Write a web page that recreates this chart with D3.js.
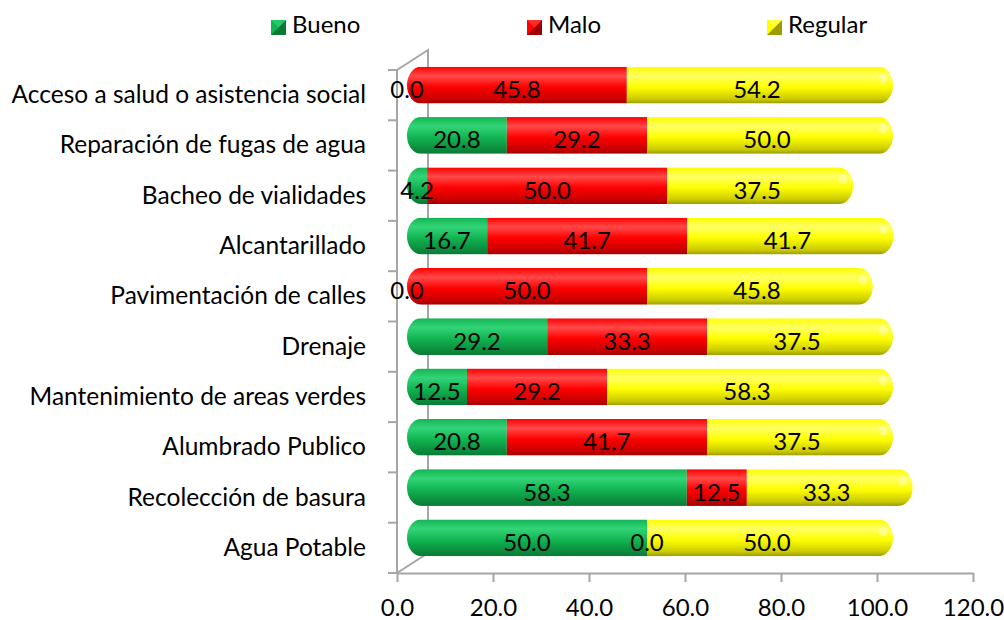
<!DOCTYPE html>
<html>
<head>
<meta charset="utf-8">
<script src="https://cdn.jsdelivr.net/npm/d3@7"></script>
<style>
  body { margin: 0; background: #fff; }
  svg { display: block; font-family: Lato, "Noto Sans", sans-serif; }
</style>
</head>
<body>
<svg width="1004" height="620"></svg>
<script>
// datos
const categorias = [
  "Acceso a salud o asistencia social", "Reparación de fugas de agua", "Bacheo de vialidades",
  "Alcantarillado", "Pavimentación de calles", "Drenaje", "Mantenimiento de areas verdes",
  "Alumbrado Publico", "Recolección de basura", "Agua Potable"
];
const bueno   = [0.0, 20.8, 4.2, 16.7, 0.0, 29.2, 12.5, 20.8, 58.3, 50.0];
const malo    = [45.8, 29.2, 50.0, 41.7, 50.0, 33.3, 29.2, 41.7, 12.5, 0.0];
const regular = [54.2, 50.0, 37.5, 41.7, 45.8, 37.5, 58.3, 37.5, 33.3, 50.0];
const series = ["Bueno", "Malo", "Regular"];
const xTicks = [0, 20, 40, 60, 80, 100, 120];

const colores = {
  Bueno:   { top: "#33d477", mid: "#12b552", bot: "#0b8a3c", dark: "#0a7a35" },
  Malo:    { top: "#ff4a4a", mid: "#ff0000", bot: "#c80000", dark: "#a00000" },
  Regular: { top: "#ffff66", mid: "#ffff00", bot: "#caca00", dark: "#9c9c00" }
};

const svg = d3.select("svg");
const pLeft = 397, pRight = 973, pTop = 70, pBottom = 573;
const dx = 10, dy = -10;        // mitad de la profundidad 3D
const backDx = 31, backDy = -20; // pared del fondo

const x = d3.scaleLinear().domain([0, 120]).range([pLeft, pRight]);
const y = d3.scaleBand().domain(categorias).range([pTop, pBottom]).paddingInner(0.27).paddingOuter(0.135);
const yb = d3.scaleBand().domain(categorias).range([pTop, pBottom]);

const filas = categorias.map((c, i) => ({ cat: c, Bueno: bueno[i], Malo: malo[i], Regular: regular[i] }));
const stacked = d3.stack().keys(series)(filas);

// gradientes
const defs = svg.append("defs");
series.forEach(s => {
  const g = defs.append("linearGradient").attr("id", "g-" + s)
    .attr("x1", 0).attr("y1", 0).attr("x2", 0).attr("y2", 1);
  g.append("stop").attr("offset", "0%").attr("stop-color", colores[s].mid);
  g.append("stop").attr("offset", "25%").attr("stop-color", colores[s].top);
  g.append("stop").attr("offset", "55%").attr("stop-color", colores[s].mid);
  g.append("stop").attr("offset", "88%").attr("stop-color", colores[s].bot);
  g.append("stop").attr("offset", "100%").attr("stop-color", colores[s].dark);
});

// pared y ejes
const grey = "#a6a6a6";
const wall = svg.append("g").attr("stroke", grey).attr("stroke-width", 2).attr("fill", "none");
wall.append("path").attr("d",
  `M${pLeft},${pTop}L${pLeft + backDx},${pTop + backDy}L${pLeft + backDx},${pBottom + backDy}L${pLeft},${pBottom}`);
wall.append("line").attr("x1", pLeft).attr("x2", pLeft).attr("y1", pTop).attr("y2", pBottom);

// ticks del eje de categorías
svg.append("g").selectAll("line")
  .data(d3.range(categorias.length + 1))
  .join("line")
  .attr("x1", pLeft - 9).attr("x2", pLeft)
  .attr("y1", i => pTop + i * yb.step()).attr("y2", i => pTop + i * yb.step())
  .attr("stroke", grey).attr("stroke-width", 2);

// eje x
const xAxis = d3.axisBottom(x).tickValues(xTicks).tickFormat(d3.format(".1f")).tickSizeInner(9).tickSizeOuter(0);
const gx = svg.append("g").attr("transform", `translate(0,${pBottom})`).call(xAxis);
gx.select(".domain").attr("stroke", grey).attr("stroke-width", 2);
gx.selectAll(".tick line").attr("stroke", grey).attr("stroke-width", 2);
gx.selectAll(".tick text").attr("font-size", 24).attr("fill", "#000").attr("y", 43).attr("dy", 0)
  .attr("font-family", "Lato, sans-serif");

// etiquetas de categorías
svg.append("g").selectAll("text")
  .data(categorias)
  .join("text")
  .attr("x", 366)
  .attr("y", d => yb(d) + yb.bandwidth() / 2 + 8)
  .attr("text-anchor", "end")
  .attr("font-size", 24.5)
  .attr("fill", "#000")
  .text(d => d);

// barras
const barras = svg.append("g").attr("transform", `translate(${dx},${dy})`);
categorias.forEach((c, i) => {
  const total = bueno[i] + malo[i] + regular[i];
  defs.append("clipPath").attr("id", "clip" + i)
    .append("rect")
    .attr("x", x(0)).attr("y", y(c))
    .attr("width", x(total) - x(0) + 6).attr("height", y.bandwidth())
    .attr("rx", 14).attr("ry", y.bandwidth() / 2);
});
stacked.forEach(serie => {
  barras.append("g").selectAll("rect")
    .data(serie)
    .join("rect")
    .attr("clip-path", (d, i) => `url(#clip${i})`)
    .attr("x", d => x(d[0]))
    .attr("y", d => y(d.data.cat))
    .attr("width", (d, i) => {
      const total = bueno[i] + malo[i] + regular[i];
      return x(d[1]) - x(d[0]) + (d[1] >= total - 0.01 ? 6 : 0);
    })
    .attr("height", y.bandwidth())
    .attr("fill", `url(#g-${serie.key})`);
});
// brillo en el extremo
barras.append("g").selectAll("ellipse")
  .data(categorias)
  .join("ellipse")
  .attr("cx", (c, i) => x(bueno[i] + malo[i] + regular[i]) - 4)
  .attr("cy", c => y(c) + y.bandwidth() * 0.32)
  .attr("rx", 4).attr("ry", 5)
  .attr("fill", "#fff").attr("opacity", 0.35);

// etiquetas de datos
stacked.forEach(serie => {
  barras.append("g").selectAll("text")
    .data(serie)
    .join("text")
    .attr("x", d => x((d[0] + d[1]) / 2))
    .attr("y", d => y(d.data.cat) + y.bandwidth() / 2 + 13)
    .attr("text-anchor", "middle")
    .attr("font-size", 24)
    .attr("fill", "#000")
    .text(d => d3.format(".1f")(d[1] - d[0]));
});

// leyenda
const leyendaX = [271, 527, 767];
const ley = svg.append("g");
series.forEach((s, i) => {
  const g = ley.append("g").attr("transform", `translate(${leyendaX[i]},20)`);
  g.append("rect").attr("width", 15).attr("height", 15).attr("fill", colores[s].mid);
  g.append("path").attr("d", "M15,0L15,15L0,15Z").attr("fill", colores[s].dark);
  g.append("path").attr("d", "M0,0L15,0L7.5,7.5Z").attr("fill", colores[s].top).attr("opacity", 0.6);
  g.append("text").attr("x", 21).attr("y", 13).attr("font-size", 24).attr("fill", "#000").text(s);
});
</script>
</body>
</html>
